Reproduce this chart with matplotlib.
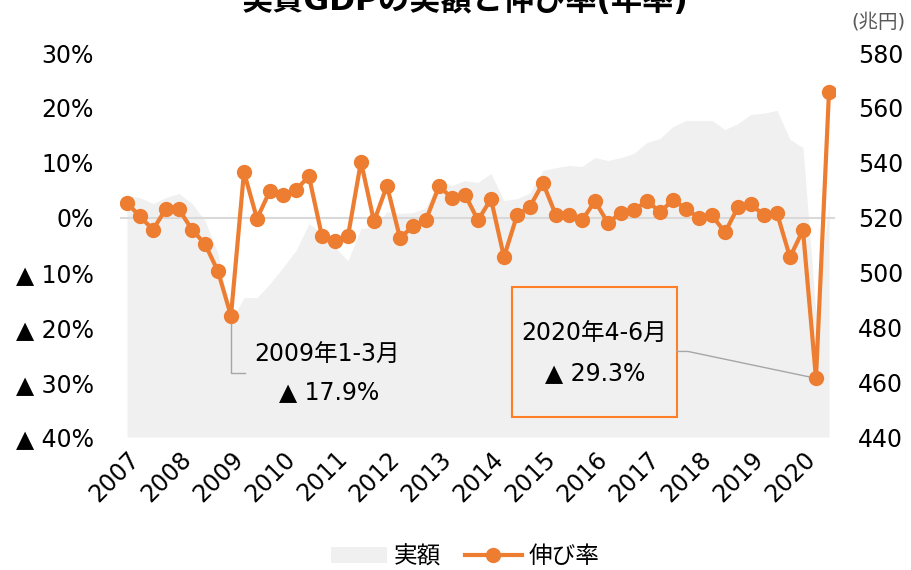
import numpy as np
import matplotlib
matplotlib.use("Agg")
import matplotlib.pyplot as plt
from matplotlib.lines import Line2D
from matplotlib.patches import Patch, Rectangle

plt.rcParams['font.family'] = ['DejaVu Sans', 'Noto Sans CJK JP']

# quarterly data, 2007 Q1 .. 2020 Q3
years = list(range(2007, 2021))
growth = [2.7, 0.2, -2.2, 1.6, 1.5, -2.2, -4.8, -9.8, -17.9, 8.3,
          -0.2, 4.9, 4.2, 5.1, 7.5, -3.4, -4.3, -3.4, 10.2, -0.7,
          5.8, -3.7, -1.6, -0.4, 5.7, 3.6, 4.2, -0.5, 3.4, -7.2,
          0.4, 2.0, 6.3, 0.4, 0.5, -0.5, 3.0, -1.0, 0.9, 1.3,
          3.1, 1.0, 3.2, 1.6, -0.1, 0.4, -2.7, 1.9, 2.4, 0.4,
          0.8, -7.2, -2.3, -29.3, 22.9]
real_gdp = [528.0, 527.3, 525.1, 527.3, 528.8, 525.1, 518.9, 506.9, 482.4, 490.8,
            490.8, 495.9, 501.8, 508.0, 517.8, 514.2, 509.1, 504.3, 516.0, 516.4,
            522.2, 521.5, 521.8, 523.6, 533.5, 531.7, 533.5, 532.8, 536.1, 526.2,
            526.9, 529.0, 537.2, 538.2, 539.0, 538.6, 541.9, 540.8, 541.9, 543.4,
            547.4, 548.8, 553.2, 555.4, 555.4, 555.4, 552.1, 554.3, 557.6, 558.0,
            559.1, 548.5, 545.5, 485.0, 525.0]
pct_ticks = [-40, -30, -20, -10, 0, 10, 20, 30]
yen_ticks = [440, 460, 480, 500, 520, 540, 560, 580]

ORANGE = '#ED7D31'
AREA = '#F0F0F0'

x = np.arange(len(growth))

fig = plt.figure(figsize=(9.12, 5.7), dpi=100)
# area axes (drawn first, behind)
ax = fig.add_axes([0.1321, 0.2333, 0.7840, 0.6737])
ax2 = ax.twinx()

ax.fill_between(x, 440, real_gdp, color=AREA, lw=0)
ax.set_ylim(440, 580)
ax.set_xlim(-0.5, len(x) - 0.5)

ax2.axhline(0, color='#D9D9D9', lw=1.5, zorder=1)
ax2.plot(x, growth, color=ORANGE, lw=3, marker='o', ms=10, zorder=3)
ax2.set_ylim(-40, 30)

# swap sides: % on the left, 兆円 on the right
ax.yaxis.tick_right()
ax2.yaxis.tick_left()
ax.set_yticks(yen_ticks)
ax.set_yticklabels([str(v) for v in yen_ticks])
ax2.set_yticks(pct_ticks)
ax2.set_yticklabels([f"{v}%" if v >= 0 else f"▲ {-v}%" for v in pct_ticks])

ax.set_xticks(x[::4])
ax.set_xticklabels([str(y) for y in years], rotation=45, ha='right',
                   rotation_mode='anchor')

for a in (ax, ax2):
    for s in a.spines.values():
        s.set_visible(False)
ax.tick_params(axis='y', length=0, pad=16, labelsize=17, colors='#000000')
ax2.tick_params(axis='y', length=0, pad=19, labelsize=17, colors='#000000')
ax.tick_params(axis='x', length=0, pad=7, labelsize=17)

# callout 2009 Q1
i09 = 8
ax2.plot([i09, i09, i09 + 1.1], [growth[i09], -28.3, -28.3], color='#A6A6A6', lw=1, zorder=2)
ax.text(0.289, 0.214, "2009年1-3月", transform=ax.transAxes, ha='center', va='center', fontsize=17)
ax.text(0.292, 0.117, "▲ 17.9%", transform=ax.transAxes, ha='center', va='center', fontsize=17)

# callout 2020 Q2
i20 = 53
ax.add_patch(Rectangle((0.5476, 0.052), 0.2308, 0.3385, transform=ax.transAxes,
                       fill=False, edgecolor='#FF7F27', lw=1.5, zorder=4))
ax2.plot([42.3, 43.15, i20], [-24.4, -24.4, growth[i20]], color='#A6A6A6', lw=1, zorder=2)
ax.text(0.662, 0.268, "2020年4-6月", transform=ax.transAxes, ha='center', va='center', fontsize=17)
ax.text(0.664, 0.167, "▲ 29.3%", transform=ax.transAxes, ha='center', va='center', fontsize=17)

fig.text(0.51, 0.982, "実質GDPの実額と伸び率(年率)", ha='center', va='baseline',
         fontsize=22.5, fontweight='bold')
fig.text(0.963, 0.962, "(兆円)", ha='center', va='center', fontsize=14, color='#595959')

handles = [Patch(facecolor=AREA, edgecolor='none'),
           Line2D([], [], color=ORANGE, lw=3, marker='o', ms=10)]
fig.legend(handles, ["実額", "伸び率"], loc='center', bbox_to_anchor=(0.51, 0.024),
           ncol=2, frameon=False, fontsize=17, handlelength=2.4, columnspacing=1.0,
           handletextpad=0.3)

fig.savefig("out.png", dpi=100)
